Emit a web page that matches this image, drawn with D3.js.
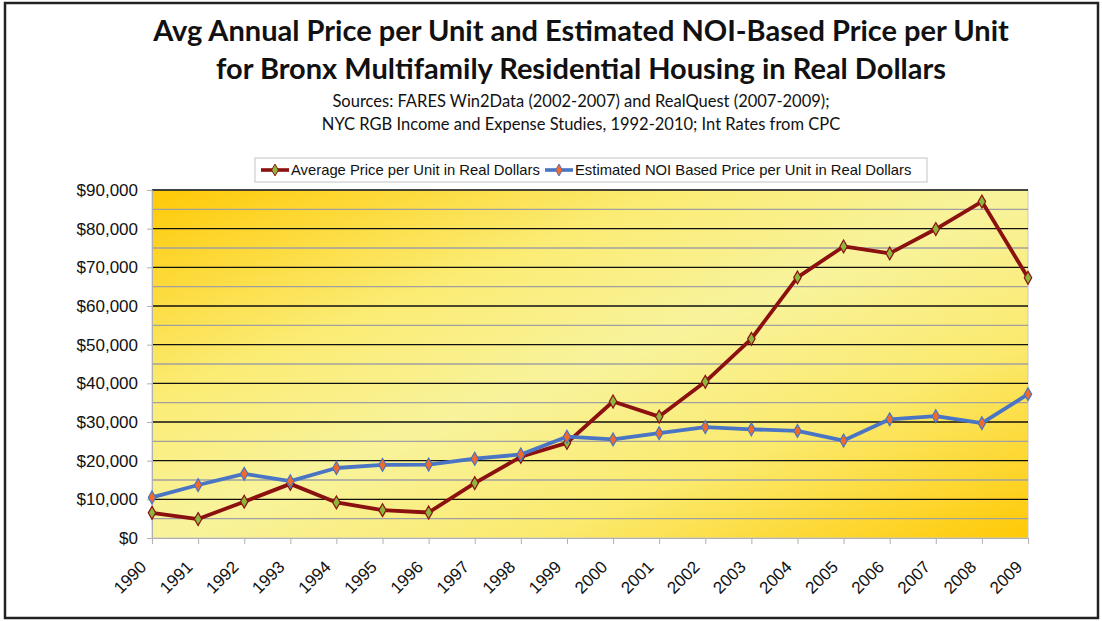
<!DOCTYPE html>
<html>
<head>
<meta charset="utf-8">
<script src="https://cdn.jsdelivr.net/npm/d3@7"></script>
<style>
  html, body { margin: 0; padding: 0; background: #fff; }
  svg { display: block; }
</style>
</head>
<body>
<div id="chart"></div>
<script>
// data
var years = ['1990','1991','1992','1993','1994','1995','1996','1997','1998','1999',
             '2000','2001','2002','2003','2004','2005','2006','2007','2008','2009'];
var avgPrice = [6500, 4900, 9400, 14000, 9200, 7200, 6600, 14200, 21000, 24600,
                35300, 31400, 40400, 51500, 67400, 75400, 73600, 79900, 87000, 67300];
var noiPrice = [10500, 13700, 16600, 14700, 18100, 18900, 19000, 20500, 21600, 26200,
                25500, 27100, 28700, 28100, 27700, 25200, 30700, 31500, 29700, 37200];
var yTicks = [0, 10000, 20000, 30000, 40000, 50000, 60000, 70000, 80000, 90000];
var minorTicks = [5000, 15000, 25000, 35000, 45000, 55000, 65000, 75000, 85000];
var seriesNames = ['Average Price per Unit in Real Dollars',
                   'Estimated NOI Based Price per Unit in Real Dollars'];

var W = 1102, H = 621;
var plotL = 152, plotR = 1028, plotT = 190, plotB = 538;

var svg = d3.select('#chart').append('svg')
    .attr('width', W).attr('height', H);

// outer frame
svg.append('rect')
    .attr('x', 5).attr('y', 3).attr('width', 1093).attr('height', 615)
    .attr('fill', '#fff').attr('stroke', '#222').attr('stroke-width', 2.5);

// titles
var title = svg.append('g').attr('font-family', 'Lato, "Open Sans", sans-serif')
    .attr('text-anchor', 'middle').attr('fill', '#111');
title.append('text').attr('x', 581).attr('y', 41)
    .attr('font-size', 29).attr('font-weight', 'bold')
    .text('Avg Annual Price per Unit and Estimated NOI-Based Price per Unit');
title.append('text').attr('x', 581).attr('y', 79)
    .attr('font-size', 29).attr('font-weight', 'bold')
    .text('for Bronx Multifamily Residential Housing in Real Dollars');
title.append('text').attr('x', 581).attr('y', 107)
    .attr('font-size', 16.5)
    .text('Sources: FARES Win2Data (2002-2007) and RealQuest (2007-2009);');
title.append('text').attr('x', 581).attr('y', 130)
    .attr('font-size', 16.5)
    .text('NYC RGB Income and Expense Studies, 1992-2010; Int Rates from CPC');

// scales
var x = d3.scalePoint().domain(years).range([plotL, plotR]);
var y = d3.scaleLinear().domain([0, 90000]).range([plotB, plotT]);

// gradient background
var defs = svg.append('defs');
var grad = defs.append('linearGradient').attr('id', 'bg')
    .attr('x1', '0%').attr('y1', '0%').attr('x2', '100%').attr('y2', '100%');
grad.append('stop').attr('offset', '0%').attr('stop-color', '#FFC905');
grad.append('stop').attr('offset', '30%').attr('stop-color', '#FBEC74');
grad.append('stop').attr('offset', '50%').attr('stop-color', '#F8F39C');
grad.append('stop').attr('offset', '72%').attr('stop-color', '#FBEA6E');
grad.append('stop').attr('offset', '100%').attr('stop-color', '#FFC905');

svg.append('rect')
    .attr('x', plotL).attr('y', plotT)
    .attr('width', plotR - plotL).attr('height', plotB - plotT)
    .attr('fill', 'url(#bg)').attr('stroke', '#c8c8c8').attr('stroke-width', 1);

// gridlines
svg.append('g').selectAll('line').data(minorTicks).join('line')
    .attr('x1', plotL).attr('x2', plotR)
    .attr('y1', function(d) { return y(d); }).attr('y2', function(d) { return y(d); })
    .attr('stroke', '#a0a0a0').attr('stroke-width', 1.3);
svg.append('g').selectAll('line').data(yTicks.slice(1)).join('line')
    .attr('x1', plotL).attr('x2', plotR)
    .attr('y1', function(d) { return y(d); }).attr('y2', function(d) { return y(d); })
    .attr('stroke', '#111').attr('stroke-width', 1.3);

// axes
var yAxis = svg.append('g').attr('transform', 'translate(' + plotL + ',0)')
    .call(d3.axisLeft(y).tickValues(yTicks).tickSize(5).tickPadding(9)
        .tickFormat(function(d) { return '$' + d3.format(',')(d); }));
yAxis.select('.domain').attr('stroke', '#b0b0b0');
yAxis.selectAll('.tick line').attr('stroke', '#b0b0b0');
yAxis.selectAll('text').attr('font-family', 'Arial, "Liberation Sans", sans-serif')
    .attr('font-size', 17).attr('fill', '#111');

var xAxis = svg.append('g').attr('transform', 'translate(0,' + plotB + ')')
    .call(d3.axisBottom(x).tickSize(6).tickSizeOuter(0));
xAxis.select('.domain').attr('stroke', '#b0b0b0');
xAxis.selectAll('.tick line').attr('stroke', '#b0b0b0');
xAxis.selectAll('text')
    .attr('font-family', 'Arial, "Liberation Sans", sans-serif')
    .attr('font-size', 17).attr('fill', '#111')
    .attr('text-anchor', 'end')
    .attr('dy', 0).attr('y', 0)
    .attr('transform', 'translate(-5,30) rotate(-45)');

// lines and markers
var series = [
  { name: seriesNames[0], values: avgPrice, line: '#8B1010', fill: '#8DB63C' },
  { name: seriesNames[1], values: noiPrice, line: '#4A74C4', fill: '#F26A2A' }
];
var lineGen = d3.line()
    .x(function(d, i) { return x(years[i]); })
    .y(function(d) { return y(d); });
var diamond = d3.symbol().type(d3.symbolDiamond).size(48);

series.forEach(function(s) {
  svg.append('path').datum(s.values)
      .attr('d', lineGen)
      .attr('fill', 'none').attr('stroke', s.line)
      .attr('stroke-width', 3.8).attr('stroke-linejoin', 'round');
  svg.append('g').selectAll('path').data(s.values).join('path')
      .attr('d', diamond)
      .attr('transform', function(d, i) {
        return 'translate(' + x(years[i]) + ',' + y(d) + ')';
      })
      .attr('fill', s.fill).attr('stroke', s.line).attr('stroke-width', 1.2);
});

// legend
var lg = svg.append('g').attr('transform', 'translate(255,158)');
lg.append('rect').attr('width', 672).attr('height', 24)
    .attr('fill', '#fff').attr('stroke', '#c4c4c4');
var legX = [6, 290];
series.forEach(function(s, i) {
  var g = lg.append('g').attr('transform', 'translate(' + legX[i] + ',12)');
  g.append('line').attr('x1', 0).attr('x2', 28).attr('stroke', s.line).attr('stroke-width', 3.6);
  g.append('path').attr('d', d3.symbol().type(d3.symbolDiamond).size(40))
      .attr('transform', 'translate(14,0)')
      .attr('fill', s.fill).attr('stroke', s.line).attr('stroke-width', 1);
  g.append('text').attr('x', 30).attr('y', 5)
      .attr('font-family', 'Arial, "Liberation Sans", sans-serif')
      .attr('font-size', 14.8).attr('fill', '#111')
      .text(s.name);
});
</script>
</body>
</html>
